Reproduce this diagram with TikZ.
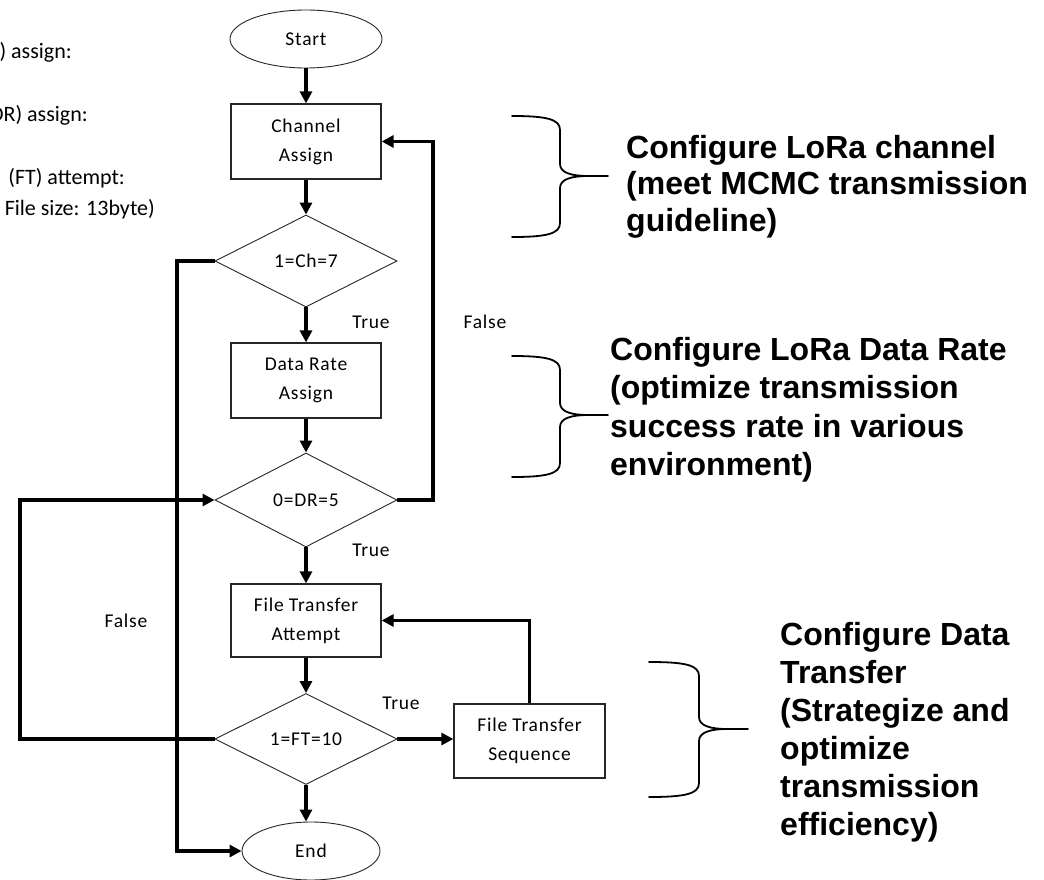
\documentclass[tikz,border=0pt]{standalone}
\usepackage{fontspec}
\setmainfont{Carlito}
\newfontfamily\flowfont[LetterSpace=4]{Carlito}
\newfontfamily\notefont{Liberation Sans}
\usetikzlibrary{arrows.meta,shapes.geometric}

% curly brace opening to the right: #1 left ends, #2 spine, #3 tip x,
% #4 top y, #5 tip y, #6 bottom y
\newcommand\notebrace[6]{%
  \draw[bracestyle] (#1,#4) .. controls ({#2-14},#4) and (#2,{#4+3}) .. (#2,{#4+14})
    -- (#2,{#5-12}) .. controls (#2,{#5-3}) and ({#2+12},#5) .. ({#2+28},#5) -- (#3,#5)
    ({#2+28},#5) .. controls ({#2+12},#5) and (#2,{#5+3}) .. (#2,{#5+12})
    -- (#2,{#6-14}) .. controls (#2,{#6-3}) and ({#2-14},#6) .. (#1,#6);}

\begin{document}
\begin{tikzpicture}[x=1pt,y=-1pt,
  flow/.style={line width=3.5pt,-{Triangle[length=12pt,width=12pt]}},
  procbox/.style={draw=black!85,line width=1.2pt,minimum width=150pt,
    minimum height=75pt,inner sep=0pt,align=center,
    font=\flowfont\fontsize{19.5}{29}\selectfont},
  term/.style={ellipse,draw=black!85,line width=0.9pt,inner sep=0pt,
    font=\flowfont\fontsize{19.5}{23}\selectfont},
  decision/.style={diamond,draw=black!85,line width=0.9pt,minimum width=182pt,
    minimum height=92pt,inner sep=0pt,font=\flowfont\fontsize{19.5}{23}\selectfont},
  lbl/.style={inner sep=0pt,font=\flowfont\fontsize{19.5}{23}\selectfont},
  side/.style={inner sep=0pt,anchor=east,font=\fontsize{22}{26}\selectfont},
  note/.style={inner sep=0pt,anchor=base west,align=left},
  bracestyle/.style={line width=1.8pt,line join=round,line cap=round}
]
\useasboundingbox (0,0) rectangle (1044,880);
\clip (0,0) rectangle (1044,880);

% flowchart nodes
\node[term,minimum width=152pt,minimum height=58pt] (start) at (306,39) {Start};
\node[procbox] (chan) at (306,141.5) {Channel\\Assign};
\node[decision] (d1) at (306,261) {1=Ch=7};
\node[procbox] (dr) at (306,380.5) {Data Rate\\Assign};
\node[decision,minimum height=94pt] (d2) at (306,500) {0=DR=5};
\node[procbox,minimum height=73pt] (fta) at (306,620.5) {File Transfer\\Attempt};
\node[decision,minimum height=91pt] (d3) at (306,739) {1=FT=10};
\node[procbox,minimum width=151pt,minimum height=74pt] (fts) at (529.5,741) {File Transfer\\Sequence};
\node[term,minimum width=138pt,minimum height=58pt] (end) at (311,851) {End};

% main flow
\draw[flow] (start) -- (chan);
\draw[flow] (chan) -- (d1);
\draw[flow] (d1) -- (dr);
\draw[flow] (dr) -- (d2);
\draw[flow] (d2) -- (fta);
\draw[flow] (fta) -- (d3);
\draw[flow] (d3.south) -- (d3.south |- end.north);
\draw[flow] (d3.east) -- (d3.east -| fts.west);
\draw[flow] (fts.north) |- (fta.east);

% loop-backs and exits
\coordinate (rr) at (433,0);
\coordinate (li) at (177,0);
\coordinate (lo) at (20,0);
\draw[flow] (d2.east) -- (d2.east -| rr) |- (chan.east);
\draw[flow] (d1.west) -- (d1.west -| li) |- (end.west);
\draw[flow] (d3.west) -- (d3.west -| lo) |- (d2.west);

% branch labels
\node[lbl] (t1) at (371,322) {True};
\node[lbl] (f1) at (485,322) {False};
\node[lbl] (t2) at (371,550) {True};
\node[lbl] (f2) at (126,621) {False};
\node[lbl] (t3) at (401,703) {True};

% parameter notes at the left edge
\node[side] (n1) at (72,52) {) assign:};
\node[side] (n2) at (88,115) {DR) assign:};
\node[side] (n3) at (125,178) {(FT) attempt:};
\node[side] (n4) at (155,209) {File size: 13byte)};

% braces and descriptions
\notebrace{512}{560}{608}{116}{176}{237}
\notebrace{512}{560}{608}{356}{415}{477}
\notebrace{649}{699}{748}{662}{729}{797}

\node[note,font=\notefont\bfseries\fontsize{32}{36.5}\selectfont] (c1) at (626,231)
  {Configure LoRa channel\\(meet MCMC transmission\\guideline)};
\node[note,font=\notefont\bfseries\fontsize{32}{38.5}\selectfont] (c2) at (610,475.5)
  {Configure LoRa Data Rate\\(optimize transmission\\success rate in various\\environment)};
\node[note,font=\notefont\bfseries\fontsize{32}{38}\selectfont] (c3) at (780,835)
  {Configure Data\\Transfer\\(Strategize and\\optimize\\transmission\\efficiency)};
\end{tikzpicture}
\end{document}
